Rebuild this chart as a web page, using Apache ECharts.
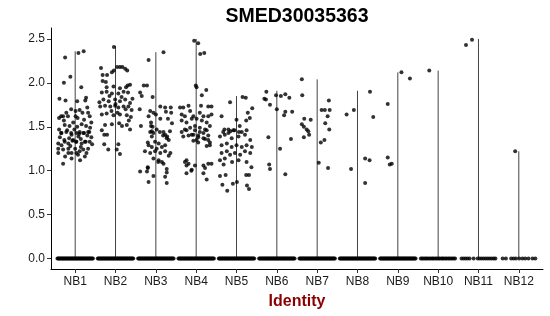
<!DOCTYPE html>
<html>
<head>
<meta charset="utf-8">
<script src="https://cdn.jsdelivr.net/npm/echarts@6/dist/echarts.min.js"></script>
<style>html,body{margin:0;padding:0;background:#fff}#c{width:550px;height:316px}</style>
</head>
<body>
<div id="c"></div>
<script>
var categories = ['NB1','NB2','NB3','NB4','NB5','NB6','NB7','NB8','NB9','NB10','NB11','NB12'];
var yTicks = [0, 0.5, 1, 1.5, 2, 2.5];
// top of each violin (max expression)
var violinTop = [2.36, 2.42, 2.35, 2.50, 1.85, 1.91, 2.04, 1.91, 2.12, 2.14, 2.50, 1.22];

// non-zero cells: [jitter, value]
var nb1 = [[-0.25,2.29],[0.08,2.34],[0.21,2.36],[-0.28,2.00],[-0.12,2.07],[-0.39,1.82],[-0.24,1.80],[0.15,1.95],[0.25,1.80],[0.27,1.83],[0.05,1.79],
[0.01,1.68],[0.11,1.69],[-0.22,1.66],[-0.30,1.62],[-0.18,1.62],[0.32,1.66],[0.36,1.62],[0.01,1.62],[0.06,1.60],
[-0.26,1.52],[-0.14,1.51],[0.16,1.53],[0.27,1.51],[0.37,1.49],[-0.35,1.43],[-0.1,1.43],[0.1,1.42],[0.22,1.43],[0.35,1.44],
[-0.27,1.35],[-0.15,1.37],[-0.07,1.34],[0.02,1.33],[0.14,1.36],[0.26,1.33],
[-0.34,1.43],[-0.22,1.44],[-0.09,1.41],[0.03,1.43],[0.11,1.44],[0.2,1.43],[0.32,1.44],
[-0.42,1.31],[-0.34,1.29],[-0.26,1.33],[-0.17,1.31],[-0.05,1.35],[0.03,1.33],[0.16,1.31],[0.24,1.33],[0.36,1.33],
[-0.42,1.25],[-0.3,1.24],[-0.17,1.25],[-0.09,1.20],[0.03,1.20],[0.11,1.22],[0.2,1.24],[0.32,1.25],
[0.24,1.16],[-0.09,1.14],[-0.17,1.20],[0.07,1.18],[-0.3,1.08],
[-0.38,1.38],[0.4,1.38],[-0.02,1.47],[0.08,1.39],[-0.2,1.46],[0.3,1.40],[-0.12,1.28],[0.14,1.27],[-0.4,1.47],[0.42,1.30],
[-0.05,1.55],[0.05,1.50],[-0.28,1.57],[0.22,1.58],[0.4,1.55],[-0.42,1.2],[0.0,1.25],[0.28,1.2],[-0.25,1.16],[0.12,1.12],
[-0.35,1.62],[0.18,1.66],[-0.1,1.70],[0.3,1.72],[-0.4,1.60]];
var nb2 = [[-0.04,2.41],[-0.36,2.17],[-0.32,2.09],[-0.21,2.09],[-0.09,2.12],[-0.04,2.14],[0.04,2.18],[0.11,2.18],[0.17,2.18],[0.24,2.16],[0.29,2.14],
[-0.32,2.02],[-0.24,2.01],[0.36,1.98],[0.26,1.95],[-0.22,1.95],[-0.05,1.96],[0.11,1.94],[0.30,1.97],
[-0.34,1.89],[-0.22,1.90],[-0.09,1.88],[0.07,1.88],[0.2,1.90],[0.31,1.89],
[-0.3,1.81],[-0.17,1.79],[-0.01,1.81],[0.11,1.79],[0.24,1.81],[0.36,1.77],
[-0.38,1.73],[-0.26,1.74],[-0.13,1.73],[-0.01,1.74],[0.07,1.72],[0.2,1.73],[0.32,1.73],[0.40,1.69],
[-0.34,1.64],[-0.22,1.65],[-0.05,1.63],[0.11,1.64],[0.28,1.63],[0.38,1.61],
[-0.26,1.52],[-0.09,1.53],[0.16,1.51],[0.28,1.52],[0.36,1.47],
[-0.34,1.46],[-0.28,1.41],[-0.21,1.41],[0.33,1.57],[0.09,1.54],
[-0.28,1.30],[-0.18,1.24],[0.07,1.30],[0.11,1.19],[0.03,1.24],
[-0.15,1.85],[0.0,1.76],[0.15,1.84],[-0.1,1.68],[0.05,1.66],[0.25,1.70],[-0.4,1.78],[0.42,1.82]];
var nb3 = [[0.19,2.35],[-0.18,2.26],[-0.3,1.97],[-0.22,1.97],[-0.39,1.89],[-0.35,1.85],[-0.08,1.84],[-0.4,1.70],
[-0.14,1.68],[-0.06,1.66],[0.0,1.64],[0.11,1.73],[0.23,1.72],[0.25,1.67],[0.37,1.72],[0.38,1.66],
[-0.37,1.51],[-0.12,1.51],[0.11,1.59],[0.3,1.59],[0.4,1.54],
[-0.18,1.62],[-0.12,1.55],[-0.08,1.50],[0.02,1.47],[0.1,1.44],[0.18,1.40],[0.28,1.39],[0.35,1.45],[-0.1,1.45],[-0.2,1.32],
[-0.14,1.44],[-0.06,1.43],[-0.1,1.39],[0.19,1.44],[0.23,1.41],[0.27,1.37],[0.32,1.35],[-0.02,1.33],[0.07,1.31],[-0.18,1.29],
[-0.1,1.27],[0.02,1.25],[0.15,1.27],[0.23,1.29],[-0.27,1.22],[-0.14,1.20],[-0.02,1.22],[0.11,1.20],[0.23,1.22],[0.36,1.20],
[0.32,1.17],[-0.06,1.14],[0.07,1.12],[0.15,1.10],[0.19,1.08],[-0.2,1.03],[-0.39,0.99],[-0.22,0.99],[-0.06,0.94],[0.27,0.98],
[0.23,0.93],[-0.18,0.87],[0.27,0.86],[0.06,1.10],[0.27,1.02],[-0.2,1.04]];
var nb4 = [[-0.05,2.48],[0.05,2.45],[0.1,2.33],[0.2,2.34],[-0.01,1.97],[0.01,1.95],[0.14,1.86],[0.25,1.92],
[-0.19,1.74],[-0.4,1.72],[-0.32,1.72],[0.12,1.74],[0.3,1.73],[0.38,1.73],
[-0.36,1.64],[-0.28,1.62],[-0.15,1.68],[-0.07,1.62],[0.09,1.66],[0.18,1.62],[0.3,1.62],[0.38,1.64],
[-0.36,1.57],[-0.24,1.55],[-0.11,1.59],[0.01,1.59],[0.14,1.57],[0.26,1.55],
[-0.28,1.47],[-0.15,1.49],[-0.03,1.51],[0.09,1.49],[0.22,1.47],[0.34,1.51],
[-0.19,1.40],[-0.07,1.41],[0.05,1.40],[0.18,1.43],[0.3,1.40],
[-0.07,1.34],[0.05,1.32],[0.22,1.36],[0.34,1.32],[0.26,1.28],
[-0.36,1.44],[-0.24,1.46],[-0.03,1.46],[0.09,1.44],[0.26,1.46],[-0.32,1.39],[-0.11,1.41],[0.05,1.38],[0.18,1.37],[0.3,1.35],
[0.01,1.35],[0.34,1.29],
[-0.28,1.10],[-0.19,1.08],[-0.24,1.06],[-0.03,1.06],[0.18,1.06],[0.3,1.08],[0.38,1.08],[0.22,1.03],[-0.11,1.01],[-0.24,0.97],
[0.18,0.97],[0.26,0.90],[-0.24,1.12],[-0.12,1.0]];
var nb5 = [[-0.16,1.78],[-0.37,1.62],[0.15,1.84],[0.23,1.83],[0.39,1.71],[0.28,1.66],[0.33,1.60],[0.24,1.57],[0.0,1.58],[0.08,1.51],
[-0.3,1.47],[-0.2,1.47],[-0.15,1.45],[-0.05,1.46],[0.06,1.44],
[-0.33,1.44],[-0.2,1.43],[-0.08,1.46],[0.13,1.44],[0.25,1.46],
[-0.41,1.39],[-0.29,1.41],[-0.12,1.37],[0.05,1.39],[0.21,1.41],[0.34,1.35],
[-0.37,1.29],[-0.24,1.31],[-0.12,1.27],[0.0,1.29],[0.13,1.27],[0.25,1.29],[0.38,1.27],
[-0.37,1.20],[-0.24,1.22],[-0.16,1.18],[-0.04,1.20],[0.09,1.18],[0.21,1.22],[0.34,1.20],
[-0.41,1.12],[-0.29,1.14],[0.05,1.12],[0.25,1.10],
[-0.41,0.94],[-0.35,0.84],[-0.23,0.77],[-0.27,0.95],[-0.09,0.85],[0.01,0.87],[-0.32,1.07],[-0.11,1.10],
[0.26,0.83],[0.31,0.79],[0.24,0.95],[0.31,0.95],[0.37,1.04]];
var nb6 = [[-0.26,1.90],[-0.31,1.82],[-0.27,1.81],[-0.17,1.75],[-0.02,1.86],[0.10,1.85],[0.21,1.87],[0.31,1.83],[0.0,1.70],
[0.18,1.63],[0.21,1.67],[0.38,1.67],[-0.21,1.38],[0.08,1.25],[0.35,1.36],[-0.19,1.07],[-0.17,1.02],[0.21,0.96]];
var nb7 = [[-0.38,2.04],[-0.37,1.86],[-0.32,1.59],[-0.16,1.58],[-0.38,1.53],[-0.33,1.50],[-0.26,1.47],[-0.22,1.45],[-0.2,1.41],
[-0.33,1.38],[0.29,1.80],[0.11,1.69],[0.19,1.69],[0.31,1.69],[0.26,1.62],[0.20,1.54],[0.30,1.47],[0.18,1.35],[0.09,1.32],
[0.04,1.09],[0.27,1.03]];
var nb8 = [[-0.27,1.64],[-0.09,1.69],[0.31,1.90],[0.39,1.61],[-0.16,1.02],[0.19,1.14],[0.30,1.12],[0.19,0.86]];
var nb9 = [[-0.25,1.76],[0.09,2.12],[0.30,2.05],[-0.25,1.15],[-0.20,1.07],[-0.15,1.08]];
var nb10 = [[-0.22,2.14]];
var nb11 = [[-0.31,2.43],[-0.16,2.49]];
var nb12 = [[-0.09,1.22]];

// jitter of the zero-valued cells
var zeroDense = [-0.44,-0.42,-0.40,-0.38,-0.36,-0.34,-0.32,-0.30,-0.28,-0.26,-0.24,-0.22,-0.20,-0.18,-0.16,-0.14,-0.12,-0.10,-0.08,-0.06,-0.04,-0.02,
0.0,0.02,0.04,0.06,0.08,0.10,0.12,0.14,0.16,0.18,0.20,0.22,0.24,0.26,0.28,0.30,0.32,0.34,0.36,0.38,0.40,0.42,0.44];
var zeroNB10 = [-0.43,-0.40,-0.37,-0.33,-0.30,-0.27,-0.23,-0.20,-0.16,-0.13,-0.10,-0.06,-0.03,0.01,0.04,0.08,0.11,0.14,0.18,0.21,0.25,0.28,0.32,0.35,0.39,0.42];
var zeroNB11 = [-0.42,-0.37,-0.32,-0.27,-0.22,-0.12,-0.02,0.03,0.08,0.13,0.18,0.23,0.28,0.33,0.38,0.42];
var zeroNB12 = [-0.40,-0.32,-0.19,-0.13,-0.07,0.01,0.09,0.16,0.24,0.34,0.41];

var groups = [nb1, nb2, nb3, nb4, nb5, nb6, nb7, nb8, nb9, nb10, nb11, nb12];
var zeroJitter = [zeroDense, zeroDense, zeroDense, zeroDense, zeroDense, zeroDense, zeroDense, zeroDense, zeroDense, zeroNB10, zeroNB11, zeroNB12];

var points = [];
groups.forEach(function (g, i) {
  var c = i + 1;
  zeroJitter[i].forEach(function (dx) { points.push([c + dx, 0]); });
  g.forEach(function (p) { points.push([c + p[0], p[1]]); });
});

var series = [];
violinTop.forEach(function (top, i) {
  series.push({
    type: 'line', data: [[i + 1, 0], [i + 1, top]], symbol: 'none', silent: true,
    lineStyle: { color: '#444', width: 1 }, z: 1, animation: false
  });
});
series.push({
  type: 'scatter', data: points, symbol: 'circle', symbolSize: 4,
  itemStyle: { color: '#000' }, z: 3, animation: false, silent: true
});

var chart = echarts.init(document.getElementById('c'), null, { renderer: 'canvas' });
chart.setOption({
  animation: false,
  backgroundColor: '#fff',
  title: {
    text: 'SMED30035363', left: 292, top: 2, textAlign: 'center',
    textStyle: { fontFamily: 'Liberation Sans', fontWeight: 'bold', fontSize: 19.5, color: '#000' }
  },
  grid: { left: 51, right: 7, top: 28, bottom: 47, outerBoundsMode: 'none', containLabel: false },
  xAxis: {
    type: 'value', min: 0.4, max: 12.6,
    name: 'Identity', nameLocation: 'middle', nameGap: 25,
    nameTextStyle: { fontFamily: 'Liberation Sans', fontWeight: 'bold', fontSize: 16, color: '#8B0000' },
    axisLine: { show: true, onZero: false, lineStyle: { color: '#000', width: 1 } },
    axisTick: { show: true, length: 4, customValues: categories.map(function (c, i) { return i + 1; }), lineStyle: { color: '#333' } },
    axisLabel: {
      customValues: categories.map(function (c, i) { return i + 1; }),
      formatter: function (v) { return categories[Math.round(v) - 1] || ''; },
      fontFamily: 'Liberation Sans', fontSize: 12, color: '#1a1a1a', margin: 7
    },
    splitLine: { show: false }
  },
  yAxis: {
    type: 'value', min: -0.12, max: 2.625,
    axisLine: { show: true, onZero: false, lineStyle: { color: '#000', width: 1 } },
    axisTick: { show: true, length: 4, customValues: yTicks, lineStyle: { color: '#333' } },
    axisLabel: {
      customValues: yTicks,
      formatter: function (v) { return v.toFixed(1); },
      fontFamily: 'Liberation Sans', fontSize: 12, color: '#1a1a1a', margin: 6
    },
    splitLine: { show: false }
  },
  series: series
});
</script>
</body>
</html>
